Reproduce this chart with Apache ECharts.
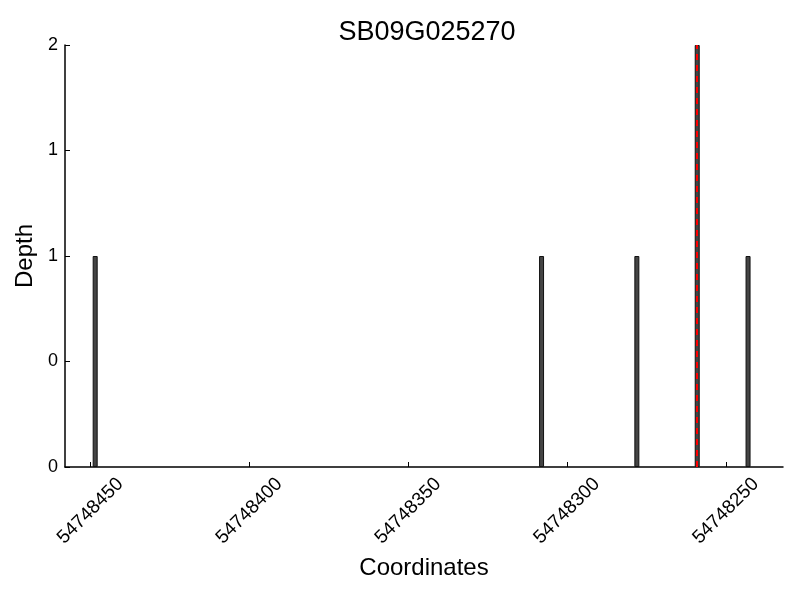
<!DOCTYPE html>
<html>
<head>
<meta charset="utf-8">
<script src="https://cdn.jsdelivr.net/npm/echarts@6/dist/echarts.min.js"></script>
<style>
  html, body { margin: 0; padding: 0; background: #fff; }
  #main { width: 800px; height: 600px; }
</style>
</head>
<body>
<div id="main"></div>
<script>
// read positions of the coverage bars (genomic coordinate) and their depth
const positions = [54748448.5, 54748308, 54748278, 54748259, 54748243];
const depths = [1, 1, 1, 2, 1];
// position of the red dashed marker
const markerPos = [54748259];
const xTicks = [54748450, 54748400, 54748350, 54748300, 54748250];
const yTicks = [0, 0.5, 1, 1.5, 2];

const font = "Liberation Sans";
let chart = echarts.init(document.getElementById("main"));

let option = {
  animation: false,
  title: {
    text: "SB09G025270",
    left: 422,
    textAlign: "center",
    top: 14,
    textStyle: { fontFamily: font, fontSize: 27, fontWeight: "normal", color: "#000" },
  },
  grid: { left: 65, right: 17, top: 45, bottom: 133 },
  xAxis: {
    type: "value",
    inverse: true,
    min: 54748232,
    max: 54748458,
    name: "Coordinates",
    nameLocation: "middle",
    nameGap: 89,
    nameTextStyle: { fontFamily: font, fontSize: 24, color: "#000" },
    axisLine: { lineStyle: { color: "#000", width: 1.5 } },
    axisTick: { inside: true, length: 5, customValues: xTicks, lineStyle: { color: "#000" } },
    axisLabel: {
      customValues: xTicks,
      rotate: 45,
      align: "center",
      verticalAlign: "middle",
      fontFamily: font,
      fontSize: 19,
      color: "#000",
      margin: 44,
      formatter: (v) => String(v),
    },
    splitLine: { show: false },
  },
  yAxis: {
    type: "value",
    min: 0,
    max: 2,
    name: "Depth",
    nameLocation: "middle",
    nameGap: 26,
    nameTextStyle: { fontFamily: font, fontSize: 24, color: "#000" },
    axisLine: { show: true, lineStyle: { color: "#000", width: 1.5 } },
    axisTick: { show: true, inside: true, length: 5, customValues: yTicks, lineStyle: { color: "#000" } },
    axisLabel: {
      customValues: yTicks,
      fontFamily: font,
      fontSize: 18,
      color: "#000",
      margin: 7,
      formatter: (v) => String(Math.floor(v)),
    },
    splitLine: { show: false },
  },
  series: [
    {
      type: "bar",
      data: positions.map((p, i) => [p, depths[i]]),
      barWidth: 5,
      itemStyle: { color: "#444", borderColor: "#111", borderWidth: 1 },
    },
    {
      type: "line",
      data: [],
      markLine: {
        symbol: "none",
        silent: true,
        label: { show: false },
        lineStyle: { color: "#ff0000", type: [6, 5], width: 2 },
        data: markerPos.map((p) => ({ xAxis: p })),
      },
    },
  ],
};

chart.setOption(option);
</script>
</body>
</html>
